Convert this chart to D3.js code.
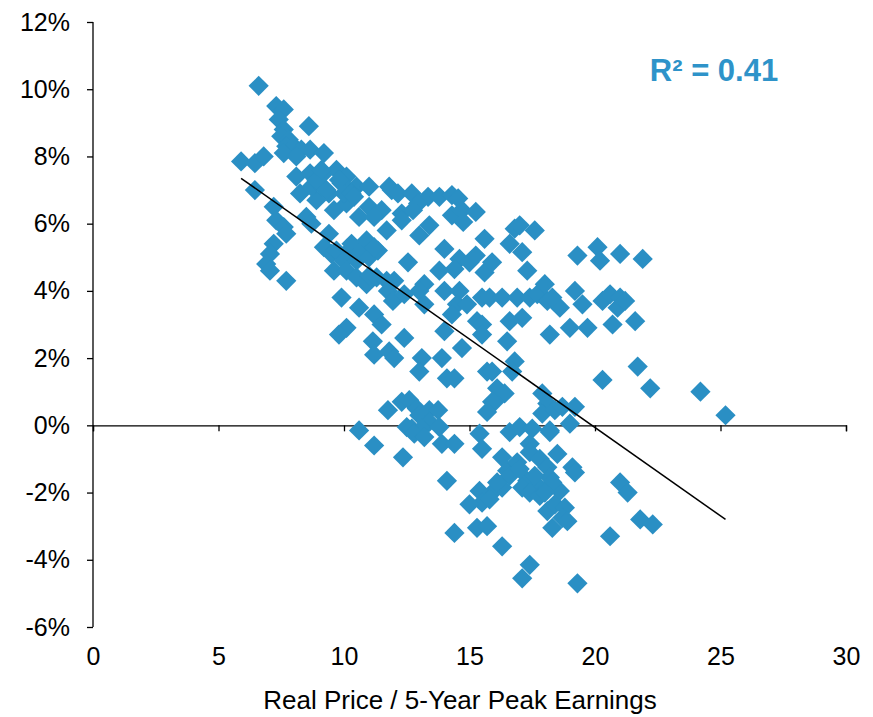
<!DOCTYPE html>
<html><head><meta charset="utf-8">
<script src="https://cdn.jsdelivr.net/npm/d3@7"></script>
<style>body{margin:0;background:#fff}svg{display:block}</style>
</head><body><svg id="c" width="873" height="717"></svg>
<script>
// Real Price / 5-Year Peak Earnings (x) vs subsequent real return % (y)
const peRatio = [
6.6,7.3,7.6,7.4,7.6,8.6,7.5,7.8,7.7,8.0,8.3,7.6,8.1,8.65,9.2,5.9,6.45,6.8,6.45,8.1,
8.65,9.2,9.7,10.1,10.5,11.0,9.9,8.25,8.9,8.7,9.4,9.0,9.6,10.1,10.0,8.5,8.7,7.2,7.3,7.6,
7.7,7.2,7.05,6.9,7.05,7.7,9.4,9.2,9.5,9.7,10.2,10.0,10.3,10.5,10.7,11.0,10.9,10.6,11.0,11.35,
9.6,10.1,10.5,10.9,11.0,11.3,11.7,9.9,10.6,11.2,11.5,10.1,9.8,11.15,12.4,11.2,11.8,12.0,
11.8,11.9,12.15,12.7,13.35,13.8,14.3,12.95,12.3,12.75,12.3,11.5,11.2,11.7,13.0,13.4,14.3,14.7,14.55,15.25,
14.75,15.6,14.0,14.6,14.4,15.0,15.25,15.6,15.9,16.6,16.8,17.0,17.1,17.6,17.3,13.8,13.2,13.0,12.55,12.0,
11.75,11.95,12.4,11.2,14.0,14.6,14.5,14.9,14.3,14.0,14.7,15.5,15.3,15.5,15.5,13.2,
15.8,16.3,16.9,17.4,17.7,18.1,18.0,18.6,18.3,19.5,20.3,20.9,20.6,21.0,21.2,19.2,17.1,16.6,18.2,19.0,
19.7,20.7,21.6,19.3,20.1,20.2,21.0,21.9,16.5,16.8,16.7,20.3,21.7,22.2,24.2,25.2,
13.1,13.9,13.0,14.1,14.4,15.7,15.9,16.1,16.4,16.0,15.9,15.7,17.9,18.1,17.9,18.4,18.7,19.2,19.0,18.2,
11.75,12.3,12.6,12.9,13.0,13.4,13.75,13.4,12.5,12.7,13.1,13.8,10.6,11.2,12.35,12.8,13.2,13.9,14.4,14.1,
15.4,15.5,16.6,17.0,17.5,18.2,
16.3,16.5,16.9,17.4,17.4,17.8,18.1,18.5,19.1,19.2,17.3,17.8,18.2,17.1,17.4,17.8,18.6,16.3,15.9,15.4,
15.5,15.0,15.8,18.1,18.4,18.8,18.7,18.9,18.3,15.3,15.7,14.4,16.3,17.4,17.1,19.3,20.6,21.0,21.3,21.8,
22.3,16.6,17.0,17.6,18.3,16.1,18.0,
8.9,9.3,9.8,10.3,9.1,10.4
];
const realReturn = [
10.1,9.5,9.4,9.1,8.8,8.9,8.6,8.5,8.3,8.3,8.2,8.1,8.0,8.2,8.1,7.85,7.8,8.0,7.0,7.4,
7.5,7.5,7.6,7.4,7.1,7.1,7.2,6.9,6.7,7.1,6.9,7.2,6.4,6.6,6.9,6.2,6.0,6.5,6.1,5.9,
5.7,5.4,5.1,4.8,4.6,4.3,5.7,5.3,5.1,5.2,5.2,4.9,5.4,4.9,5.2,5.0,5.5,6.2,6.5,5.2,
4.6,4.6,4.4,4.2,4.45,4.4,4.3,3.8,3.5,3.3,3.0,2.9,2.7,2.5,2.6,2.1,2.2,2.0,
7.1,7.0,6.9,6.9,6.8,6.8,6.85,6.6,6.3,6.4,6.1,6.4,6.2,5.8,5.65,5.95,6.25,6.4,6.75,6.35,
6.05,5.55,5.25,4.95,4.65,4.85,5.05,4.55,4.85,5.4,5.85,5.95,5.15,5.8,4.6,4.6,4.2,4.0,4.85,4.3,
4.0,3.7,3.9,5.3,4.0,4.0,3.6,3.6,3.3,2.8,2.3,3.8,3.1,3.0,2.7,3.6,
3.8,3.8,3.8,3.8,3.9,3.7,4.2,3.5,3.8,3.6,3.7,3.5,3.9,3.8,3.7,4.0,3.2,3.1,2.7,2.9,
2.9,3.0,3.1,5.05,5.3,4.9,5.1,4.95,2.5,1.9,1.6,1.35,1.75,1.1,1.0,0.3,
2.0,2.0,1.6,1.4,1.4,1.6,1.6,1.1,0.95,0.7,0.7,0.4,0.95,0.65,0.35,0.45,0.55,0.55,0.05,-0.15,
0.45,0.7,0.75,0.5,0.3,0.45,0.45,0.1,-0.05,-0.1,-0.1,-0.05,-0.15,-0.6,-0.95,-0.25,-0.35,-0.55,-0.55,-1.65,
-0.25,-0.7,-0.2,-0.05,-0.1,-0.2,
-0.95,-1.35,-1.1,-0.55,-0.8,-1.0,-1.25,-0.85,-1.25,-1.4,-1.65,-1.85,-1.55,-1.85,-2.0,-2.1,-1.95,-1.85,-2.0,-1.95,
-2.3,-2.35,-2.2,-2.55,-2.35,-2.45,-2.75,-2.85,-3.05,-3.05,-3.0,-3.2,-3.6,-4.15,-4.55,-4.7,-3.3,-1.7,-2.0,-2.8,
-2.95,-1.5,-1.3,-1.5,-1.7,-1.7,-2.0,
7.3,7.0,7.3,6.9,7.6,6.8
];
const trendX = [5.9, 25.2];
const trendY = [7.35, -2.8];
const xTicks = [0, 5, 10, 15, 20, 25, 30];
const yTicks = [-6, -4, -2, 0, 2, 4, 6, 8, 10, 12];
const xTitle = "Real Price / 5-Year Peak Earnings";
const rSquaredLabel = "R\u00B2 = 0.41";

const svg = d3.select("#c");
const x = d3.scaleLinear().domain([0, 30]).range([93, 846]);
const y = d3.scaleLinear().domain([-6, 12]).range([627, 22]);
const blue = "#2a8fc4";
const font = "'Liberation Sans', Arial, sans-serif";

// x axis line through zero
const xAx = svg.append("g").attr("transform", `translate(0,${y(0)})`)
  .call(d3.axisBottom(x).tickValues(xTicks).tickSize(6).tickFormat(""));
xAx.select(".domain").attr("stroke", "#000").attr("stroke-width", 1.3);
xAx.selectAll(".tick line").attr("stroke", "#000").attr("stroke-width", 1.3);

// x tick labels at bottom
const xLab = svg.append("g").attr("transform", "translate(0,647)")
  .call(d3.axisBottom(x).tickValues(xTicks).tickSize(0).tickPadding(0));
xLab.select(".domain").remove();
xLab.selectAll("text").attr("font-family", font).attr("font-size", 25).attr("fill", "#000");

// y axis
const yAx = svg.append("g").attr("transform", `translate(${x(0)},0)`)
  .call(d3.axisLeft(y).tickValues(yTicks).tickSize(6).tickPadding(17).tickFormat(d => d + "%"));
yAx.select(".domain").attr("stroke", "#000").attr("stroke-width", 1.3).attr("d", `M0,${y(12)}V${y(-6)}`);
yAx.selectAll(".tick line").attr("stroke", "#000").attr("stroke-width", 1.3);
yAx.selectAll("text").attr("font-family", font).attr("font-size", 25).attr("fill", "#000");

// points
const pts = peRatio.map((v, i) => ({ x: v, y: realReturn[i] }));
const sym = d3.symbol().type(d3.symbolSquare).size(205);
svg.append("g").selectAll("path").data(pts).join("path")
  .attr("d", sym)
  .attr("transform", d => `translate(${x(d.x)},${y(d.y)}) rotate(45)`)
  .attr("fill", blue);

// trend line
svg.append("line")
  .attr("x1", x(trendX[0])).attr("y1", y(trendY[0]))
  .attr("x2", x(trendX[1])).attr("y2", y(trendY[1]))
  .attr("stroke", "#000").attr("stroke-width", 1.5);

// R² label
svg.append("text").attr("x", 714).attr("y", 81).attr("text-anchor", "middle")
  .attr("font-family", font).attr("font-weight", "bold").attr("font-size", 31)
  .attr("fill", "#2e93c9").text(rSquaredLabel);

// x title
svg.append("text").attr("x", 460).attr("y", 709).attr("text-anchor", "middle")
  .attr("font-family", font).attr("font-size", 26).attr("fill", "#000").text(xTitle);
</script>
</body></html>
